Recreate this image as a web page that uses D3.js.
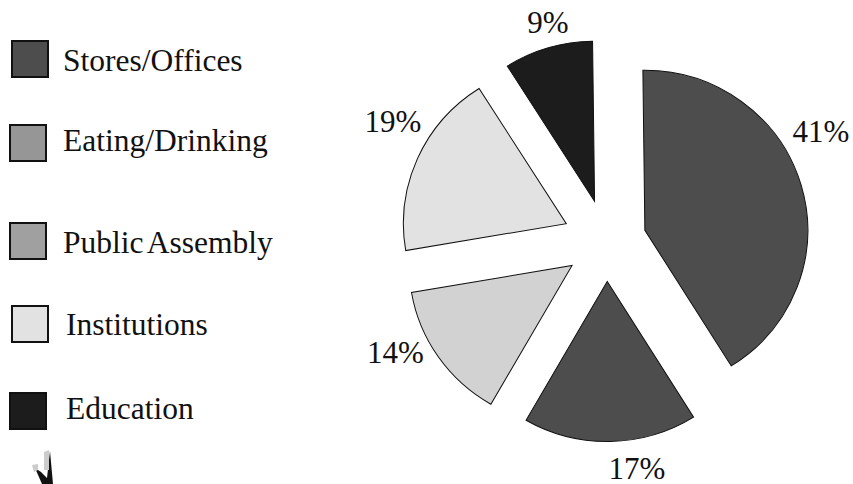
<!DOCTYPE html>
<html><head><meta charset="utf-8">
<script src="https://cdnjs.cloudflare.com/ajax/libs/d3/7.9.0/d3.min.js"></script>
<style>html,body{margin:0;padding:0;background:#fff}svg{display:block}text{font-family:"Liberation Serif",serif;fill:#111}</style>
</head><body><svg id="c" width="853" height="484"></svg>
<script>
const values=[41.3,17.2,14.0,18.7,8.8];
const percentLabels=["41%","17%","14%","19%","9%"];
const sliceColors=["#4d4d4d","#4d4d4d","#d2d2d2","#e2e2e2","#1c1c1c"];
const legendLabels=["Stores/Offices","Eating/Drinking","Public Assembly","Institutions","Education"];
const legendColors=["#4d4d4d","#969696","#a0a0a0","#e2e2e2","#1c1c1c"];
const explodeBy=[40,40,42,44,42];
const legendBox=[[12,41],[10,125],[10,223],[12,306],[10,393]];
const legendText=[[63,71],[63,151],[63,253],[66,335],[66,419]];
const labelPos=[[821,142],[637,479],[395.5,363],[393,132],[548,33]];

const svg=d3.select("#c");
const cx=606.5,cy=241.5,R=160,sx=1.018;
const a0=-0.7*Math.PI/180;
const pie=d3.pie().sort(null).value(d=>d).startAngle(a0).endAngle(2*Math.PI+a0);
const arc=d3.arc().innerRadius(0).outerRadius(R);
svg.selectAll("path.s").data(pie(values)).join("path").attr("class","s")
  .attr("d",arc).attr("fill",(d,i)=>sliceColors[i]).attr("stroke","#111").attr("stroke-width",1)
  .attr("transform",(d,i)=>{const a=(d.startAngle+d.endAngle)/2;
    return `translate(${cx+explodeBy[i]*Math.sin(a)},${cy-explodeBy[i]*Math.cos(a)}) scale(${sx},1)`;});
svg.selectAll("text.p").data(percentLabels).join("text").attr("class","p")
  .attr("x",(d,i)=>labelPos[i][0]).attr("y",(d,i)=>labelPos[i][1])
  .attr("text-anchor","middle").attr("font-size",31).text(d=>d);
svg.selectAll("rect.l").data(legendColors).join("rect").attr("class","l")
  .attr("x",(d,i)=>legendBox[i][0]).attr("y",(d,i)=>legendBox[i][1])
  .attr("width",36).attr("height",36).attr("fill",d=>d).attr("stroke","#111").attr("stroke-width",2);
svg.selectAll("text.t").data(legendLabels).join("text").attr("class","t")
  .attr("x",(d,i)=>legendText[i][0]).attr("y",(d,i)=>legendText[i][1])
  .attr("font-size",31.5).attr("word-spacing",-3).text(d=>d);
svg.append("path").attr("d","M50 451L53 484L42 484L35 468L41 472L47 478Z").attr("fill","#111");
svg.append("path").attr("d","M44 452L49 450L49 470L44 470Z").attr("fill","#ccc");
svg.append("path").attr("d","M32 465L38 464L38 470L34 472Z").attr("fill","#ccc");
</script></body></html>
